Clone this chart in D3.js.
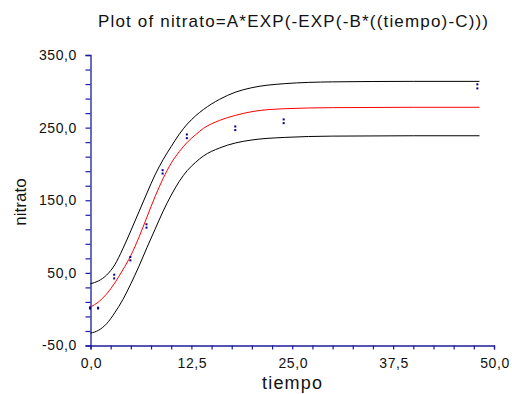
<!DOCTYPE html>
<html><head><meta charset="utf-8">
<script src="https://cdn.jsdelivr.net/npm/d3@7/dist/d3.min.js"></script>
<style>body{margin:0;background:#fff}svg{display:block}</style>
</head><body>
<script>
// observed data: tiempo and nitrato (pairs of replicates)
const obsTiempo  = [0, 0, 1, 1, 3, 3, 5, 5, 7, 7, 9, 9, 12, 12, 18, 18, 24, 24, 48, 48];
const obsNitrato = [2.4, 1, 2, 1, 47.5, 42.4, 71.9, 67.2, 116.9, 112.3, 191.4, 186.8, 240.6, 235.5, 251.6, 246.6, 261.3, 256.2, 309.6, 304];
// fitted curve and bands
const curveTiempo = [0, 1, 2, 3, 4, 5, 6, 7, 8, 9, 10, 11, 12, 13, 14, 16, 18, 20, 24, 30, 40, 48.2];
const fitNitrato  = [3, 10, 21, 36, 54, 74, 99, 127, 155, 180, 201, 217, 230, 240, 249, 260, 267, 272, 276, 277.5, 278, 278];
const upperBand   = [35, 39, 47, 61, 83, 108, 134, 160, 185, 206, 224, 241, 255, 266, 275, 289, 299, 305, 310.5, 313, 313.7, 313.7];
const lowerBand   = [-33, -29, -20, -5, 13, 35, 59, 85, 110, 135, 157, 176, 191, 202, 211, 222, 229, 233, 236.5, 238.3, 238.8, 238.8];
const xTicksMajor = [0, 12.5, 25, 37.5, 50];
const yTicksMajor = [-50, 50, 150, 250, 350];
const titleText = "Plot of nitrato=A*EXP(-EXP(-B*((tiempo)-C)))";

const W = 512, H = 394;
const svg = d3.select("body").append("svg").attr("width", W).attr("height", H)
  .style("font-family", "'Liberation Sans', Arial, sans-serif");

const x = d3.scaleLinear().domain([0, 50]).range([90.5, 494]);
const y = d3.scaleLinear().domain([-50, 350]).range([345.5, 55]);
const axisColor = "#1c1c9c";
const fmt = v => d3.format(".1f")(v).replace(".", ",").replace("\u2212", "-");

// y axis
const ya = svg.append("g").attr("transform", `translate(${x(0)},0)`)
  .call(d3.axisLeft(y).tickValues(d3.range(-50, 351, 20)).tickSize(5).tickFormat(""));
ya.select(".domain").attr("stroke", axisColor).attr("stroke-width", 1.3);
ya.selectAll(".tick line").attr("stroke", axisColor).attr("stroke-width", 1.2);
svg.append("g").selectAll("text").data(yTicksMajor).join("text")
  .attr("x", 77).attr("y", d => y(d)).attr("dy", "0.35em")
  .attr("text-anchor", "end").attr("font-size", 14).attr("letter-spacing", 0.6).attr("fill", "#111")
  .text(fmt);

// x axis
const xa = svg.append("g").attr("transform", `translate(0,${y(-50)})`)
  .call(d3.axisBottom(x).tickValues(d3.range(0, 50.01, 2.5)).tickSize(4).tickFormat(""));
xa.select(".domain").attr("stroke", axisColor).attr("stroke-width", 1.3);
xa.selectAll(".tick line").attr("stroke", axisColor).attr("stroke-width", 1.2);
svg.append("g").selectAll("text").data(xTicksMajor).join("text")
  .attr("x", d => x(d) + 1).attr("y", 363).attr("dy", "0.35em")
  .attr("text-anchor", "middle").attr("font-size", 14).attr("letter-spacing", 0.6).attr("fill", "#111")
  .text(fmt);

// titles
svg.append("text").attr("x", 293).attr("y", 27).attr("text-anchor", "middle")
  .attr("font-size", 17).attr("textLength", 390).attr("lengthAdjust", "spacing")
  .attr("fill", "#111").text(titleText);
svg.append("text").attr("x", 292).attr("y", 389).attr("text-anchor", "middle")
  .attr("font-size", 18).attr("textLength", 60).attr("lengthAdjust", "spacing")
  .attr("fill", "#111").text("tiempo");
svg.append("text").attr("transform", `translate(26,202) rotate(-90)`).attr("text-anchor", "middle")
  .attr("font-size", 17).attr("fill", "#111").text("nitrato");

// curves
const line = vals => d3.line().x((d, i) => x(curveTiempo[i])).y(d => y(d)).curve(d3.curveMonotoneX)(vals);
svg.append("path").attr("d", line(upperBand)).attr("fill", "none").attr("stroke", "#000").attr("stroke-width", 1);
svg.append("path").attr("d", line(lowerBand)).attr("fill", "none").attr("stroke", "#000").attr("stroke-width", 1);
svg.append("path").attr("d", line(fitNitrato)).attr("fill", "none").attr("stroke", "#ff0000").attr("stroke-width", 1);

// points
svg.append("g").selectAll("rect").data(obsTiempo).join("rect")
  .attr("x", (d) => x(d) - 1.5).attr("y", (d, i) => y(obsNitrato[i]) - 1)
  .attr("width", 2).attr("height", 2).attr("fill", "#00008b");
</script>
</body></html>
